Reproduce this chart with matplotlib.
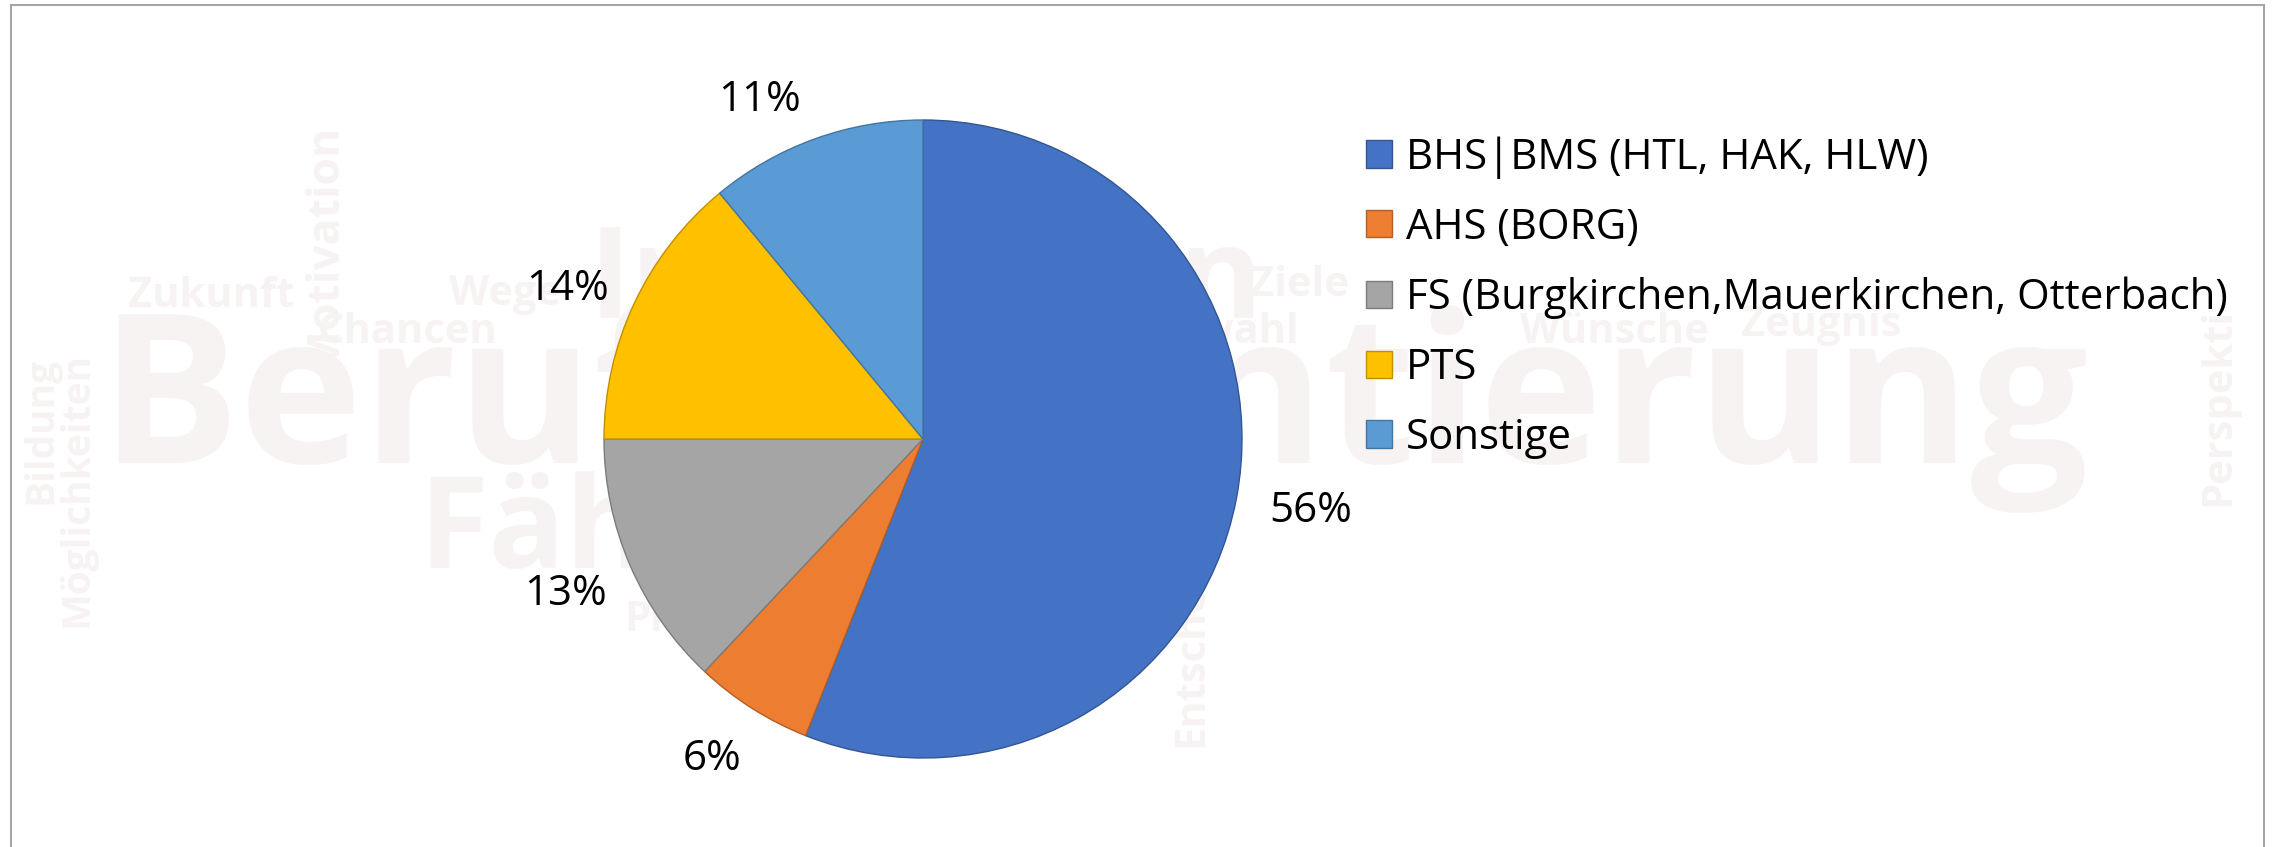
import math
import matplotlib
matplotlib.use('Agg')
import matplotlib.pyplot as plt
import matplotlib.colors as mcolors
from matplotlib.patches import Rectangle

# ---- data ----
categories = ['BHS|BMS (HTL, HAK, HLW)', 'AHS (BORG)',
              'FS (Burgkirchen,Mauerkirchen, Otterbach)', 'PTS', 'Sonstige']
shares = [56, 6, 13, 14, 11]
colors = ['#4472C4', '#ED7D31', '#A5A5A5', '#FFC000', '#5B9BD5']

W, H = 2275, 847
fig = plt.figure(figsize=(W / 100, H / 100), dpi=100)
fig.patch.set_facecolor('white')
renderer = fig.canvas.get_renderer()


def fx(x):
    return x / W


def fy(y):
    return 1 - y / H


# ---- faint word-cloud watermark in the background ----
wm_color = '#f7f3f3'
wm_font = 'Open Sans'
# (text, x, y, size, rotation, ha)
watermark = [
    ('Berufsorientierung', 99, 463, 150, 0, 'left'),
    ('Fähigkeiten', 419, 568, 92, 0, 'left'),
    ('Interessen', 589, 318, 92, 0, 'left'),
    ('Zukunft', 128, 307, 30, 0, 'left'),
    ('Wege', 449, 305, 30, 0, 'left'),
    ('Chancen', 318, 343, 30, 0, 'left'),
    ('Motivation', 336, 368, 32, 90, 'left'),
    ('Bildung', 52, 504, 28, 90, 'left'),
    ('Möglichkeiten', 88, 627, 28, 90, 'left'),
    ('Ziele', 1250, 296, 30, 0, 'left'),
    ('Berufswahl', 1299, 343, 30, 0, 'right'),
    ('Wünsche', 1520, 343, 30, 0, 'left'),
    ('Zeugnis', 1741, 336, 30, 0, 'left'),
    ('Entscheidung', 1202, 747, 30, 90, 'left'),
    ('Praktikum', 624, 631, 30, 0, 'left'),
]
for txt, x, y, s, rot, ha in watermark:
    fig.text(fx(x), fy(y), txt, fontsize=s, family=wm_font, weight='bold',
             color=wm_color, rotation=rot, rotation_mode='anchor',
             ha=ha, va='baseline', zorder=-5)

persp = fig.text(fx(2229), fy(506), 'Perspektive', fontsize=30, family=wm_font,
                 weight='bold', color=wm_color, rotation=90,
                 rotation_mode='anchor', ha='left', va='baseline', zorder=-5)
clip_rect = Rectangle((0, 0), 1, fy(310), transform=fig.transFigure)
persp.set_clip_path(clip_rect)

# ---- font size fitted so the longest legend entry is ~822 px wide ----
label_font = 'Open Sans'
probe = fig.text(0, 0, categories[2], fontsize=20, family=label_font)
pw = probe.get_window_extent(renderer).width
probe.remove()
fs = 20 * 822 / pw

# ---- pie ----
cx, cy, r = 923, 439, 319
ax = fig.add_axes([fx(cx - r), fy(cy + r), 2 * r / W, 2 * r / H])
ax.patch.set_visible(False)
wedges, texts, autotexts = ax.pie(
    shares, colors=colors, startangle=90, counterclock=False,
    autopct='%1.0f%%', pctdistance=1.2, radius=1,
    wedgeprops=dict(linewidth=1.0),
    textprops=dict(fontsize=fs, family=label_font, color='black'))
for w, c in zip(wedges, colors):
    rgb = mcolors.to_rgb(c)
    w.set_edgecolor(tuple(v * 0.75 for v in rgb))

# small angular nudges of the data labels (Excel "best fit" placement)
nudge_deg = [0.3, -1.0, 0.0, 2.4, 6.0]
dist = [1.235, 1.2, 1.22, 1.21, 1.18]
for t, d, rr in zip(autotexts, nudge_deg, dist):
    x0, y0 = t.get_position()
    ang = math.atan2(y0, x0) + math.radians(d)
    t.set_position((rr * math.cos(ang), rr * math.sin(ang)))

ax.set_xlim(-1, 1)
ax.set_ylim(-1, 1)
ax.set_aspect('equal')
ax.axis('off')

# ---- legend ----
fs_px = fs * 100 / 72
ls = 0.5
leg = fig.legend(wedges, categories, loc='upper left',
                 bbox_to_anchor=(fx(1366), fy(128)), frameon=False,
                 prop=dict(family=label_font, size=fs),
                 handlelength=26 / fs_px, handleheight=26 / fs_px,
                 handletextpad=14 / fs_px,
                 labelspacing=ls, borderpad=0, borderaxespad=0)
fig.canvas.draw()
ys = [t.get_window_extent(renderer).y0 for t in leg.get_texts()]
step = (ys[0] - ys[-1]) / (len(ys) - 1)
ls = ls + (70 - step) / fs_px
leg.remove()
leg = fig.legend(wedges, categories, loc='upper left',
                 bbox_to_anchor=(fx(1366), fy(128)), frameon=False,
                 prop=dict(family=label_font, size=fs),
                 handlelength=26 / fs_px, handleheight=26 / fs_px,
                 handletextpad=14 / fs_px,
                 labelspacing=ls, borderpad=0, borderaxespad=0)
fig.canvas.draw()
p = leg.get_patches()[0].get_window_extent(renderer)
yc = H - (p.y0 + p.y1) / 2
leg.set_bbox_to_anchor((fx(1366), fy(128 + (154 - yc))), transform=fig.transFigure)

# ---- chart border ----
fig.patches.append(Rectangle((fx(11), -0.1), fx(2264) - fx(11), fy(5) + 0.1,
                             transform=fig.transFigure, fill=False,
                             edgecolor='#a6a6a6', linewidth=1.5, zorder=10))

fig.savefig('out.png', dpi=100)
